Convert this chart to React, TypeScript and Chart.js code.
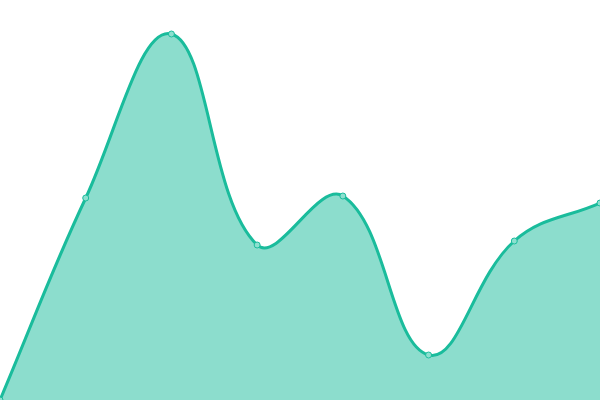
import React, { useRef, useEffect } from 'react';
import Chart from 'chart.js/auto';

const labels = ['A', 'B', 'C', 'D', 'E', 'F', 'G', 'H'];
const values = [0, 50.5, 91.5, 38.75, 51, 11.25, 39.75, 49.25];

const App: React.FC = () => {
    const chartRef = useRef<HTMLCanvasElement>(null);

    useEffect(() => {
        let chartInstance: Chart | undefined;
        if (chartRef.current) {
            const ctx = chartRef.current.getContext('2d');
            if (ctx) {
                chartInstance = new Chart(ctx, {
                    type: 'line',
                    data: {
                        labels: labels,
                        datasets: [
                            {
                                data: values,
                                fill: 'origin',
                                backgroundColor: 'rgba(26, 188, 156, 0.5)',
                                borderColor: '#1abc9c',
                                borderWidth: 3,
                                pointRadius: 3,
                                pointBorderWidth: 1,
                                pointBackgroundColor: '#8ce0cf',
                                pointBorderColor: '#1abc9c',
                                tension: 0.4,
                                clip: false
                            }
                        ]
                    },
                    options: {
                        animation: false,
                        responsive: true,
                        maintainAspectRatio: false,
                        layout: { padding: 0, autoPadding: false },
                        plugins: {
                            legend: { display: false },
                            tooltip: { enabled: false }
                        },
                        scales: {
                            x: { display: false, offset: false },
                            y: { display: false, min: 0, max: 100 }
                        }
                    }
                });
            }
        }

        return () => {
            if (chartInstance) {
                chartInstance.destroy();
            }
        };
    }, []);

    return (
        <div style={{ position: 'fixed', left: 0, top: 0, width: 600, height: 400, background: '#fff' }}>
            <canvas ref={chartRef}></canvas>
        </div>
    );
};

export default App;
